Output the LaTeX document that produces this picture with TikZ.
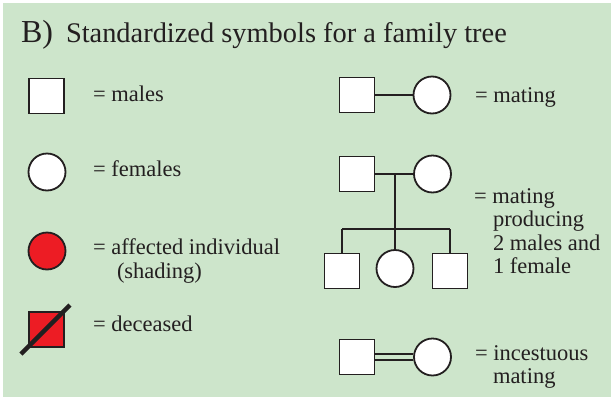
\documentclass[tikz,border=0pt]{standalone}
\usepackage{fontspec}
\setmainfont{Liberation Serif}
\usepackage{tikz}
\usetikzlibrary{calc}
\definecolor{bg}{HTML}{CDE5CB}
\definecolor{aff}{HTML}{ED1C24}
\definecolor{ink}{HTML}{231F20}
\newcommand\lbfont{\fontsize{22.5}{24}\selectfont}
\tikzset{
  sq/.style={rectangle,draw=ink,fill=white,minimum size=35pt,inner sep=0pt,line width=1.8pt},
  ci/.style={circle,draw=ink,fill=white,minimum size=37pt,inner sep=0pt,line width=1.8pt},
  lb/.style={anchor=base west,inner sep=0pt,text=ink,font=\lbfont},
  every picture/.style={line width=2pt},
}
\begin{document}
\begin{tikzpicture}[x=1pt,y=-1pt,draw=ink]
\useasboundingbox (0,0) rectangle (611,397);
\fill[bg] (3,3) rectangle (611,397);
% title
\node[lb] (tb) at (20,42){\fontsize{32}{36}\selectfont B)};
\node[lb] (tt) at (65,42){\fontsize{28.4}{32}\selectfont Standardized symbols for a family tree};
% left column
\node[sq] (M) at (46.5,96){}; \node[lb] (lm) at (92,101){= males};
\node[ci] (F) at (47,172){}; \node[lb] (lf) at (92,176){= females};
\node[ci,fill=aff] (A) at (47,251){}; \node[lb] (la) at (92,254){= affected individual};
\node[lb] (la2) at (116,278){(shading)};
\node[sq,fill=aff] (D) at (46.5,329.5){}; \node[lb] (ld) at (92,331){= deceased};
\coordinate (d1) at (21,354); \coordinate (d2) at (70,305);
\draw[line width=4.5pt] (d1)--(d2);
% mating
\node[sq] (MA) at (357,95){}; \node[ci] (MB) at (432,95){};
\draw (MA)--(MB); \node[lb] (lma) at (474,102){= mating};
% family
\node[sq] (P1) at (357,174){}; \node[ci] (P2) at (432.5,174){};
\node[sq] (C1) at (342,271){}; \node[ci] (C2) at (395,268.5){}; \node[sq] (C3) at (450,271){};
\coordinate (pm) at (395,174); \coordinate (sb) at (395,229);
\coordinate (s1) at (342,229); \coordinate (s3) at (450,229);
\draw (P1)--(P2); \draw (pm)--(sb); \draw (s1)--(s3);
\draw (s1)--(C1); \draw (sb)--(C2); \draw (s3)--(C3);
\node[lb] (lp1) at (473,203){= mating}; \node[lb] (lp2) at (492,226.5){producing};
\node[lb] (lp3) at (492,250){2 males and}; \node[lb] (lp4) at (492,273.5){1 female};
% incestuous
\node[sq] (IA) at (357,357){}; \node[ci] (IB) at (432.5,357){};
\draw[double=bg,double distance=3.7pt] (IA)--(IB);
\node[lb] (li1) at (474,360){= incestuous}; \node[lb] (li2) at (492,383){mating};
\end{tikzpicture}
\end{document}
